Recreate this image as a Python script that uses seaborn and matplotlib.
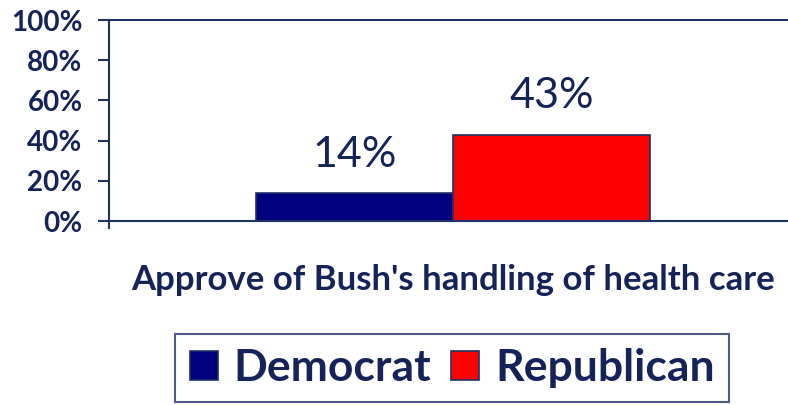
import matplotlib
matplotlib.use("Agg")
import matplotlib.pyplot as plt
import seaborn as sns
import pandas as pd
from matplotlib.patches import Patch

# Survey result: share approving, by party
question = ["Approve of Bush's handling of health care"]
parties = ["Democrat", "Republican"]
approve_pct = [14, 43]
y_ticks = [0, 20, 40, 60, 80, 100]
y_tick_labels = ["0%", "20%", "40%", "60%", "80%", "100%"]

party_colors = {"Democrat": "#000080", "Republican": "#FF0000"}
navy_text = "#14235A"
axis_color = "#1F3264"

df = pd.DataFrame({
    "question": question * len(parties),
    "party": parties,
    "approve": approve_pct,
})

sns.set_theme(style="white")
plt.rcParams["font.family"] = ["Lato", "DejaVu Sans"]

fig = plt.figure(figsize=(7.88, 4.05), dpi=100)
ax = fig.add_axes([0.1383, 0.454, 0.873, 0.4965])

sns.barplot(data=df, x="question", y="approve", hue="party",
            palette=party_colors, saturation=1, width=0.573,
            edgecolor=axis_color, linewidth=1.2, ax=ax, legend=False)

ax.set_ylim(0, 100)
ax.set_xlim(-0.5, 0.5)
ax.set_yticks(y_ticks)
ax.set_yticklabels(y_tick_labels, fontsize=20, fontweight="bold", color=navy_text)
ax.set_xticks([-0.5])
ax.set_xticklabels([""])
ax.set_xlabel(question[0], fontsize=25, fontweight="bold", color=navy_text)
ax.xaxis.set_label_coords(0.5, -0.215)
ax.set_ylabel("")
ax.tick_params(axis="y", direction="out", length=8, width=1.5, color=axis_color, pad=11, left=True)
ax.tick_params(axis="x", direction="out", length=6, width=1.5, color=axis_color, bottom=True)

for side in ["left", "bottom", "top", "right"]:
    ax.spines[side].set_color(axis_color)
    ax.spines[side].set_linewidth(1.5)

# value labels above each bar
for container, val in zip(ax.containers, approve_pct):
    ax.bar_label(container, labels=[f"{val}%"], padding=14, fontsize=31, color=navy_text)

handles = [Patch(facecolor=party_colors[p], edgecolor=axis_color, linewidth=1.2) for p in parties]
leg = fig.legend(handles, parties, loc="upper center", bbox_to_anchor=(0.574, 0.176),
                 borderaxespad=0, ncol=2, frameon=True, fancybox=False,
                 handlelength=0.63, handleheight=0.63, handletextpad=0.36,
                 columnspacing=0.45, borderpad=0.32,
                 prop={"size": 32, "weight": "bold"})
leg.get_frame().set_edgecolor(axis_color)
leg.get_frame().set_linewidth(1.5)
for t in leg.get_texts():
    t.set_color(navy_text)

fig.savefig("out.png", dpi=100)
